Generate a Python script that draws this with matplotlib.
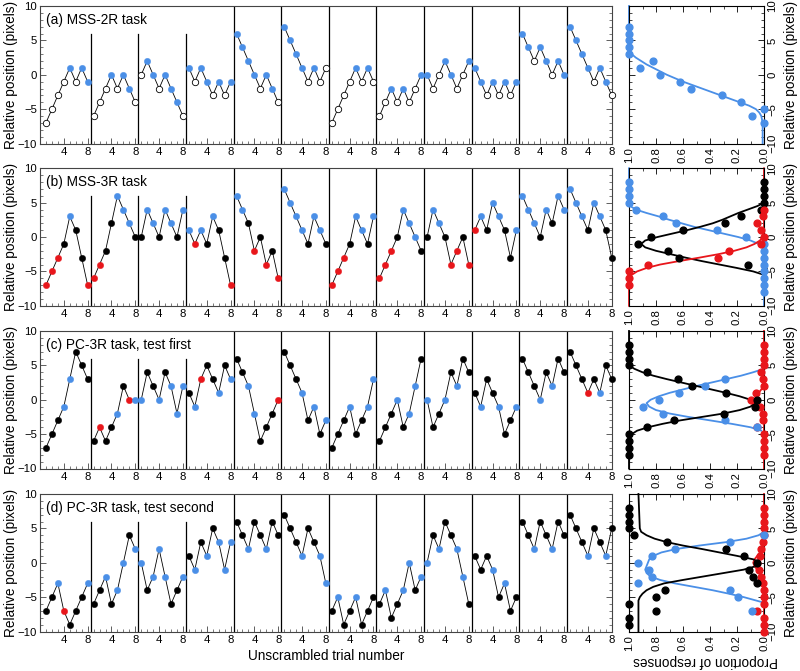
import matplotlib
matplotlib.use('Agg')
import matplotlib.pyplot as plt
from matplotlib.ticker import MultipleLocator, FixedLocator, FixedFormatter

plt.rcParams['font.family'] = ['Liberation Sans', 'DejaVu Sans']

BLUE = '#4a8fe7'
RED = '#e8161b'
BLACK = '#000000'
COL = {'b': BLUE, 'r': RED, 'k': BLACK, 'o': 'white'}

titles = ['(a) MSS-2R task', '(b) MSS-3R task',
          '(c) PC-3R task, test first', '(d) PC-3R task, test second']

# ---- left panels: 12 blocks x 8 trials, value per trial and colour code ----
vals_a = [[-7,-5,-3,-1,1,-1,1,-1], [-6,-4,-2,0,-2,0,-2,-4], [0,2,0,-2,0,-2,-4,-6],
          [1,-1,1,-1,-3,-1,-3,-1], [6,4,2,0,-2,0,-2,-4], [7,5,3,1,-1,1,-1,1],
          [-7,-5,-3,-1,1,-1,1,-1], [-6,-4,-2,-4,-2,-4,-2,0], [0,-2,0,2,0,-2,0,2],
          [1,-1,-3,-1,-3,-1,-3,-1], [6,4,2,4,2,0,2,0], [7,5,3,1,-1,1,-1,-3]]
cols_a = ['oooobobb', 'ooobobbo', 'obbobbbo', 'bobbobob', 'bbbbobbo', 'bbbboboo',
          'oooobobo', 'ooboboob', 'boobboob', 'bbobobob', 'bbobbobb', 'bbbbobbo']

vals_b = [[-7,-5,-3,-1,3,1,-3,-7], [-6,-4,-2,2,6,4,2,0], [0,4,2,0,4,2,0,4],
          [1,-1,1,-1,3,1,-3,-7], [6,4,2,-2,0,-4,-2,-6], [7,5,3,1,-1,3,1,-1],
          [-7,-5,-3,-1,3,1,-1,3], [-6,-4,-2,0,4,2,0,-2], [0,4,2,0,-4,-2,0,-4],
          [1,3,1,5,3,1,-3,1], [6,4,2,0,4,2,6,4], [7,5,3,1,5,3,1,-3]]
cols_b = ['rrrkbkkr', 'rrkkbbbk', 'kbbkbbkb', 'brbkbkkr', 'bbkrkrkr', 'bbbbkbbk',
          'rrrkbbkb', 'rrrkbbbk', 'kbbkrrkr', 'rbkbbkkb', 'bbbkbkbb', 'bbbkbbkk']

vals_c = [[-7,-5,-3,-1,3,7,5,3], [-6,-4,-6,-4,-2,2,0,0], [0,4,2,0,4,2,-2,2],
          [1,-1,3,5,3,1,5,3], [6,4,2,-2,-6,-4,-2,0], [7,5,3,1,-3,-1,-5,-3],
          [-7,-5,-3,-1,-5,-3,-1,3], [-6,-4,-2,0,-4,-2,2,6], [0,-4,-2,0,4,2,6,4],
          [1,-1,3,1,-1,-5,-3,-1], [6,4,2,0,4,2,6,4], [7,5,3,1,3,1,5,3]]
cols_c = ['kkkbbkkk', 'krkkbkrb', 'bkkbkbbb', 'kbrkkbkb', 'kkbbkkkr', 'kkkbkbkb',
          'kkkbkkbb', 'kkkbkbbk', 'bkkbkbkk', 'kbkkbkkb', 'kkkbkbkk', 'kkkrkbkk']

vals_d = [[-7,-5,-3,-7,-9,-7,-5,-3], [-6,-4,-2,-6,-4,0,4,2], [0,-4,-2,2,-2,-6,-4,-2],
          [1,-1,3,1,5,3,-1,3], [6,4,2,6,4,2,6,4], [7,5,3,1,5,3,1,-3],
          [-7,-5,-9,-7,-5,-9,-7,-5], [-6,-4,-8,-6,-4,0,-4,-2], [0,4,2,6,4,2,-2,-6],
          [1,-1,1,-1,-5,-3,-7,-5], [6,4,2,6,4,2,6,4], [7,5,3,1,5,3,1,5]]
cols_d = ['kkbrkkkb', 'kkbkbbkb', 'bkbbbkkb', 'kbkbkbbb', 'kkbkkbkk', 'kkkbkkbb',
          'kbkkbkkk', 'kbkkbbkb', 'bkbkkbbk', 'kkkbkbkk', 'kkbkkbkk', 'kkkbkkbk']

trials = [1, 2, 3, 4, 5, 6, 7, 8]

# ---- right panels: response proportions vs relative position ----
pa_blue_pos = [-7, -6, -5, -4, -3, -2, -1, 0, 1, 2, 3, 4, 5, 6, 7]
pa_blue_p = [0.0, 0.09, 0.0, 0.17, 0.31, 0.54, 0.62, 0.77, 0.92, 0.82, 1.0, 1.0, 1.0, 1.0, 1.0]
ca_blue_pos = [-10, -7, -6, -5.5, -5, -4.5, -4, -3.5, -3, -2.5, -2, -1.5, -1, -0.5, 0,
               0.5, 1, 1.5, 2, 2.5, 3, 3.5, 10]
ca_blue_p = [0.01, 0.01, 0.02, 0.035, 0.06, 0.11, 0.18, 0.25, 0.32, 0.39, 0.46, 0.53, 0.6,
             0.66, 0.72, 0.77, 0.82, 0.87, 0.91, 0.95, 0.98, 1.0, 1.0]

pb_blue_pos = [-8, -7, -6, -5, -4, -3, -2, -1, 0, 1, 2, 3, 4, 5, 6, 7, 8]
pb_blue_p = [0, 0, 0, 0, 0, 0, 0, 0, 0.13, 0.35, 0.65, 0.75, 0.95, 1, 1, 1, 1]
pb_black_pos = [-4, -3, -2, -1, 0, 1, 2, 3, 4, 5, 6, 7, 8]
pb_black_p = [0.12, 0.63, 0.71, 0.93, 0.84, 0.6, 0.29, 0.17, 0.02, 0.0, 0.0, 0.0, 0.0]
pb_red_pos = [-7, -6, -5, -4, -3, -2, -1, 0, 1, 2, 3, 4]
pb_red_p = [1.0, 1.0, 1.0, 0.86, 0.34, 0.26, 0.02, 0.0, 0.02, 0.05, 0.01, 0.0]
cb_blue_pos = [-10, -2, -1.5, -1, -0.5, 0, 0.5, 1, 1.5, 2, 2.5, 3, 3.5, 4, 4.5, 5, 10]
cb_blue_p = [0, 0, 0.01, 0.04, 0.1, 0.19, 0.3, 0.41, 0.52, 0.61, 0.7, 0.78, 0.87, 0.95, 0.99, 1, 1]
cb_black_pos = [-5.5, -5, -4.5, -4, -3.5, -3, -2.5, -2, -1.5, -1, -0.5, 0, 0.5, 1, 1.5, 2,
                2.5, 3, 3.5, 4, 4.5, 5]
cb_black_p = [0.0, 0.08, 0.2, 0.33, 0.46, 0.58, 0.69, 0.8, 0.88, 0.91, 0.88, 0.79, 0.68,
              0.57, 0.47, 0.38, 0.31, 0.25, 0.19, 0.12, 0.05, 0.0]
cb_red_pos = [-10, -6, -5.5, -5, -4.5, -4, -3.5, -3, -2.5, -2, -1.5, -1, -0.5, 0, 0.5, 10]
cb_red_p = [1.0, 1.0, 0.98, 0.94, 0.87, 0.77, 0.63, 0.48, 0.34, 0.22, 0.13, 0.07, 0.03, 0.01, 0.0, 0.0]

pc_black_pos = [-8, -7, -6, -5, -4, -3, -2, -1, 0, 1, 2, 3, 4, 5, 6, 7, 8]
pc_black_p = [1, 1, 1, 1, 0.87, 0.67, 0.3, 0.07, 0.05, 0.28, 0.53, 0.64, 0.87, 1, 1, 1, 1]
pc_blue_pos = [-4, -3, -2, -1, 0, 1, 2, 3]
pc_blue_p = [0.05, 0.29, 0.75, 0.9, 0.78, 0.63, 0.44, 0.29]
pc_red_pos = [-8, -7, -6, -5, -4, -3, -2, -1, 0, 1, 2, 3, 4, 5, 6, 7, 8]
pc_red_p = [0, 0, 0, 0, 0.05, 0.01, 0.01, 0.03, 0.1, 0.06, 0.0, 0.01, 0.02, 0, 0, 0, 0]
cc_black_pos = [-10, -5.5, -5, -4.5, -4, -3.5, -3, -2.5, -2, -1.5, -1, -0.5, 0, 0.5, 1, 1.5,
                2, 2.5, 3, 3.5, 4, 4.5, 5, 10]
cc_black_p = [1, 1, 0.98, 0.94, 0.86, 0.75, 0.62, 0.46, 0.3, 0.18, 0.1, 0.07, 0.1, 0.18,
              0.28, 0.39, 0.5, 0.61, 0.72, 0.82, 0.9, 0.96, 1, 1]
cc_blue_pos = [-4.5, -4, -3.5, -3, -2.5, -2, -1.5, -1, -0.5, 0, 0.5, 1, 1.5, 2, 2.5, 3,
               3.5, 4, 4.5]
cc_blue_p = [0.02, 0.1, 0.24, 0.4, 0.56, 0.7, 0.8, 0.85, 0.87, 0.84, 0.78, 0.7, 0.6,
             0.5, 0.39, 0.28, 0.17, 0.08, 0.0]
cc_red_pos = [-10, -3, -2, -1.5, -1, -0.5, 0, 0.5, 1, 1.5, 2, 3, 10]
cc_red_p = [0, 0, 0.005, 0.02, 0.04, 0.06, 0.065, 0.06, 0.04, 0.02, 0.005, 0, 0]

pd_black_pos = [-9, -8, -7, -6, -5, -4, -3, -2, -1, 0, 1, 2, 3, 4, 5, 6, 7, 8]
pd_black_p = [1, 1, 0.8, 1.0, 0.8, 0.73, 0.05, 0.08, 0.11, 0.05, 0.15, 0.28, 0.72,
              0.96, 1, 1, 1, 1]
pd_blue_pos = [-7, -5, -4, -3, -2, -1, 0, 1, 2, 3, 4]
pd_blue_p = [0.09, 0.19, 0.25, 0.93, 0.83, 0.85, 0.93, 0.83, 0.66, 0.25, 0.0]
pd_red_pos = [-10, -9, -8, -7, -6, -5, -4, -3, -2, -1, 0, 1, 2, 3, 4, 5, 6, 7, 8]
pd_red_p = [0, 0, 0, 0.05, 0, 0, 0, 0.01, 0.02, 0.04, 0.05, 0.03, 0.02, 0.01, 0, 0, 0, 0, 0]
cd_black_pos = [-10, -5.5, -5, -4.5, -4, -3.5, -3, -2.5, -2, -1.5, -1, -0.5, 0, 0.5, 1, 1.5,
                2, 2.5, 3, 3.5, 4, 4.5, 5, 10]
cd_black_p = [0.93, 0.93, 0.92, 0.9, 0.87, 0.82, 0.74, 0.6, 0.45, 0.3, 0.15, 0.06, 0.03,
              0.08, 0.2, 0.33, 0.46, 0.6, 0.72, 0.81, 0.87, 0.91, 0.92, 0.93]
cd_blue_pos = [-5.7, -5, -4.5, -4, -3.5, -3, -2.5, -2, -1.5, -1, -0.5, 0, 0.5, 1, 1.5, 2,
               2.5, 3, 3.5, 4, 4.5]
cd_blue_p = [0.02, 0.15, 0.26, 0.38, 0.52, 0.66, 0.77, 0.84, 0.87, 0.88, 0.87, 0.86, 0.85,
             0.82, 0.76, 0.65, 0.48, 0.28, 0.13, 0.04, 0.0]
cd_red_pos = [-10, -3, -2, -1.5, -1, -0.5, 0, 0.5, 1, 1.5, 2, 3, 10]
cd_red_p = [0, 0, 0.01, 0.03, 0.05, 0.07, 0.08, 0.07, 0.05, 0.03, 0.01, 0, 0]

rows = [
    dict(vals=vals_a, cols=cols_a,
         pts=[(pa_blue_pos, pa_blue_p, BLUE)],
         curves=[(ca_blue_pos, ca_blue_p, BLUE)]),
    dict(vals=vals_b, cols=cols_b,
         pts=[(pb_blue_pos, pb_blue_p, BLUE), (pb_black_pos, pb_black_p, BLACK),
              (pb_red_pos, pb_red_p, RED)],
         curves=[(cb_blue_pos, cb_blue_p, BLUE), (cb_black_pos, cb_black_p, BLACK),
                 (cb_red_pos, cb_red_p, RED)]),
    dict(vals=vals_c, cols=cols_c,
         pts=[(pc_red_pos, pc_red_p, RED), (pc_blue_pos, pc_blue_p, BLUE),
              (pc_black_pos, pc_black_p, BLACK)],
         curves=[(cc_red_pos, cc_red_p, RED), (cc_blue_pos, cc_blue_p, BLUE),
                 (cc_black_pos, cc_black_p, BLACK)]),
    dict(vals=vals_d, cols=cols_d,
         pts=[(pd_red_pos, pd_red_p, RED), (pd_blue_pos, pd_blue_p, BLUE),
              (pd_black_pos, pd_black_p, BLACK)],
         curves=[(cd_red_pos, cd_red_p, RED), (cd_blue_pos, cd_blue_p, BLUE),
                 (cd_black_pos, cd_black_p, BLACK)]),
]

W, H = 800, 671
fig = plt.figure(figsize=(8, 6.71), dpi=100)
tops = [6, 168.3, 331, 494]
ph = 137.5
FS_T = 8.2
FS_L = 9.8
SPINE = '#444444'
MS = 4.6

for i, row in enumerate(rows):
    b = 1 - (tops[i] + ph) / H
    yc = 1 - (tops[i] + ph / 2) / H
    ax = fig.add_axes([40 / W, b, (611.7 - 40) / W, ph / H])
    nb = len(row['vals'])
    for k in range(nb):
        xs = [8 * k + t for t in trials]
        ys = row['vals'][k]
        ax.plot(xs, ys, color='black', lw=0.6, zorder=2)
        for x, y, c in zip(xs, ys, row['cols'][k]):
            ax.plot([x], [y], 'o', ms=MS, mfc=COL[c],
                    mec='black' if c in 'ok' else COL[c], mew=0.6 if c == 'o' else 0.3,
                    zorder=3, clip_on=False)
    for k in range(nb - 1):
        xsep = 8 * k + 8.5
        ytop = 6 if k < 3 else 10
        ax.plot([xsep, xsep], [-10, ytop], color='black', lw=0.9, zorder=1)
    ax.set_xlim(0, 96)
    ax.set_ylim(-10, 10)
    ax.xaxis.set_major_locator(FixedLocator(list(range(4, 97, 4))))
    ax.xaxis.set_major_formatter(FixedFormatter(['4', '8'] * 12))
    ax.xaxis.set_minor_locator(MultipleLocator(1))
    ax.yaxis.set_major_locator(FixedLocator([-10, -5, 0, 5, 10]))
    ax.yaxis.set_minor_locator(MultipleLocator(1))
    ax.tick_params(which='both', direction='in', left=True, right=True, top=False,
                   bottom=True, labelsize=FS_T, color=SPINE)
    ax.tick_params(axis='x', pad=2.5)
    ax.tick_params(axis='y', pad=2)
    ax.tick_params(which='major', length=4, width=0.6)
    ax.tick_params(which='minor', length=2.2, width=0.5)
    for s in ax.spines.values():
        s.set_color(SPINE)
        s.set_linewidth(0.8)
    fig.text(11.5 / W, yc, 'Relative position (pixels)', fontsize=FS_L, rotation=90,
             ha='center', va='center')
    ax.text(1.0, 8.0, titles[i], fontsize=FS_L, va='center', ha='left')

    # right panel (rotated psychometric plot)
    axr = fig.add_axes([629 / W, b, (764 - 629) / W, ph / H])
    axr.axvline(1.0, color='#888888', lw=1.3, zorder=1)
    for cx, cy, c in row['curves']:
        axr.plot(cy, cx, color=c, lw=1.3, zorder=2, clip_on=False)
    for px, py, c in row['pts']:
        axr.plot(py, px, 'o', ls='none', ms=MS + 0.3, mfc=c, mec=c, zorder=3, clip_on=False)
    axr.set_xlim(1.0, 0.0)
    axr.set_ylim(-10, 10)
    axr.xaxis.set_major_locator(FixedLocator([0, 0.2, 0.4, 0.6, 0.8, 1.0]))
    axr.xaxis.set_major_formatter(FixedFormatter(['0.0', '0.2', '0.4', '0.6', '0.8', '1.0']))
    axr.xaxis.set_minor_locator(MultipleLocator(0.1))
    axr.yaxis.set_major_locator(FixedLocator([-10, -5, 0, 5, 10]))
    axr.yaxis.set_minor_locator(MultipleLocator(1))
    axr.yaxis.tick_right()
    axr.tick_params(which='both', direction='in', left=True, right=True, top=True,
                    bottom=True, labelsize=FS_T, pad=2.5)
    axr.tick_params(which='major', length=4, width=0.6)
    axr.tick_params(which='minor', length=2.2, width=0.5)
    for lab in axr.get_xticklabels():
        lab.set_rotation(90)
        lab.set_va('top')
    for lab in axr.get_yticklabels():
        lab.set_rotation(90)
        lab.set_va('center')
        lab.set_ha('left')
    for s in axr.spines.values():
        s.set_linewidth(0.8)
    fig.text(791 / W, yc, 'Relative position (pixels)', fontsize=FS_L, rotation=90,
             ha='center', va='center')

fig.text(326 / W, 1 - 656 / H, 'Unscrambled trial number', fontsize=FS_L,
         ha='center', va='center')
fig.text(706 / W, 1 - 661 / H, 'Proportion of responses', fontsize=FS_L, rotation=180,
         ha='center', va='center')

fig.savefig('out.png', dpi=100)
